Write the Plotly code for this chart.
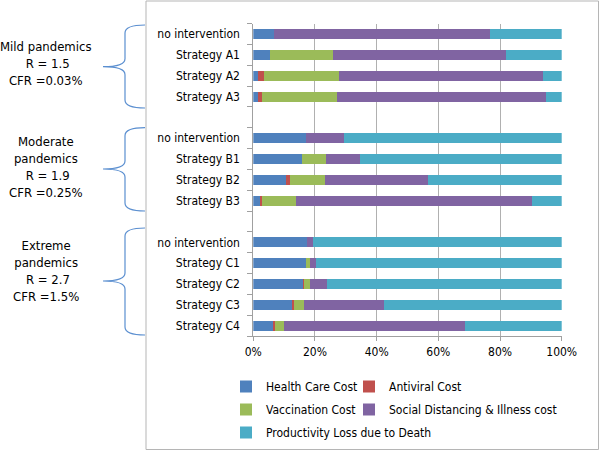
import plotly.graph_objects as go

# rows top to bottom, blank slots separate the three scenarios
strategies = ["no intervention", "Strategy A1", "Strategy A2", "Strategy A3", "",
              "no intervention", "Strategy B1", "Strategy B2", "Strategy B3", "",
              "no intervention", "Strategy C1", "Strategy C2", "Strategy C3", "Strategy C4"]

health_care = [6.6, 5.3, 1.5, 1.5, None, 17.1, 15.8, 10.5, 2.3, None, 17.4, 17.1, 16.3, 12.7, 6.8]
antiviral = [0, 0, 1.9, 1.4, None, 0, 0, 1.4, 0.4, None, 0, 0, 0.3, 0.4, 0.3]
vaccination = [0, 20.4, 24.5, 24.4, None, 0, 7.9, 11.5, 11.0, None, 0, 1.4, 1.9, 3.5, 3.0]
social_illness = [70.0, 56.1, 66.1, 67.6, None, 12.4, 11.0, 33.1, 76.8, None, 1.9, 1.8, 5.4, 25.9, 58.7]
productivity = [23.4, 18.2, 6.0, 5.1, None, 70.5, 65.3, 43.5, 9.5, None, 80.7, 79.7, 76.1, 57.5, 31.2]

x_ticks = [0, 20, 40, 60, 80, 100]
x_tick_labels = ["0%", "20%", "40%", "60%", "80%", "100%"]

# (name, values, colour, which legend column)
series = [
    ("Health Care Cost", health_care, "#4F81BD", "legend"),
    ("Antiviral Cost", antiviral, "#C0504D", "legend2"),
    ("Vaccination Cost", vaccination, "#9BBB59", "legend"),
    ("Social Distancing & Illness cost", social_illness, "#8064A2", "legend2"),
    ("Productivity Loss due to Death", productivity, "#4BACC6", "legend"),
]

scenario_labels = [
    "Mild pandemics<br> R = 1.5<br>CFR =0.03%",
    "Moderate<br>pandemics<br> R = 1.9<br>CFR =0.25%",
    "Extreme<br>pandemics<br> R = 2.7<br>CFR =1.5%",
]

W, H = 600, 452
FONT = "DejaVu Sans Condensed, DejaVu Sans, sans-serif"


def px(x, y):
    # pixel -> paper coords (margins are zero)
    return x / W, 1 - y / H


def brace_path(top, mid, bot, x_end=145, x_mid=125, x_tip=103):
    pts = [
        ("M", [(x_end, top)]),
        ("Q", [(x_mid, top), (x_mid, top + 8)]),
        ("L", [(x_mid, mid - 8)]),
        ("Q", [(x_mid, mid), (x_tip, mid)]),
        ("Q", [(x_mid, mid), (x_mid, mid + 8)]),
        ("L", [(x_mid, bot - 8)]),
        ("Q", [(x_mid, bot), (x_end, bot)]),
    ]
    out = []
    for cmd, coords in pts:
        s = " ".join("%.5f,%.5f" % px(x, y) for x, y in coords)
        out.append(cmd + " " + s)
    return " ".join(out)


fig = go.Figure()
rows = list(range(len(strategies)))
for name, vals, color, leg in series:
    fig.add_trace(go.Bar(
        y=rows, x=vals, name=name, orientation="h",
        marker=dict(color=color, line=dict(width=0)),
        width=0.48, legend=leg, legendgroup=name))

x0, _ = px(253.3, 0)
x1, _ = px(561.7, 0)
_, ybot = px(0, 336.1)
_, ytop = px(0, 23.6)

legend_style = dict(orientation="v", xanchor="left", yanchor="top", itemwidth=30,
                    tracegroupgap=4, font=dict(family=FONT, size=12),
                    bgcolor="rgba(0,0,0,0)", traceorder="grouped")

fig.update_layout(
    width=W, height=H,
    margin=dict(l=0, r=0, t=0, b=0, autoexpand=False),
    barmode="stack", barnorm="percent",
    plot_bgcolor="white", paper_bgcolor="white",
    font=dict(family=FONT, size=12, color="#000000"),
    xaxis=dict(domain=[x0, x1], range=[0, 100], tickvals=x_ticks, ticktext=x_tick_labels,
               showgrid=True, gridcolor="#B0B0B0", gridwidth=1, automargin=False,
               showline=True, linecolor="#A0A0A0", ticks="outside", ticklen=4,
               tickcolor="#A0A0A0", zeroline=False, fixedrange=True),
    yaxis=dict(domain=[ybot, ytop], range=[14.5, -0.5], tickvals=rows, ticktext=strategies,
               showgrid=False, zeroline=False, showline=True, linecolor="#A0A0A0",
               ticks="", ticklabelstandoff=10, automargin=False,
               minor=dict(ticks="outside", ticklen=5, tick0=-0.5, dtick=1, tickcolor="#A0A0A0",
                          showgrid=False),
               fixedrange=True),
    legend=dict(x=px(226, 0)[0], y=px(0, 372)[1], **legend_style),
    legend2=dict(x=px(349, 0)[0], y=px(0, 372)[1], **legend_style),
    showlegend=True,
)

# outer chart border
bx0, by0 = px(146, 1)
bx1, by1 = px(598.5, 449.5)
fig.add_shape(type="rect", xref="paper", yref="paper", x0=bx0, y0=by1, x1=bx1, y1=by0,
              line=dict(color="#B5B5B5", width=1), fillcolor="rgba(0,0,0,0)")

# braces and scenario text on the left
braces = [(25, 66.7, 108), (127.7, 169, 211), (228, 281, 335)]
text_centres = [63.5, 167.3, 270.8]
for (t, m, b), yc, label in zip(braces, text_centres, scenario_labels):
    fig.add_shape(type="path", xref="paper", yref="paper", path=brace_path(t, m, b),
                  line=dict(color="#5B8FD0", width=1.2))
    ax, ay = px(46, yc)
    fig.add_annotation(x=ax, y=ay, xref="paper", yref="paper", text=label, showarrow=False,
                       align="center", xanchor="center", yanchor="middle",
                       font=dict(family=FONT, size=13, color="#000000"))

# drop the default body margin so the figure sits at the window origin
fig.write_html("out.html", config={"displayModeBar": False},
               post_script="document.body.style.margin='0';")
